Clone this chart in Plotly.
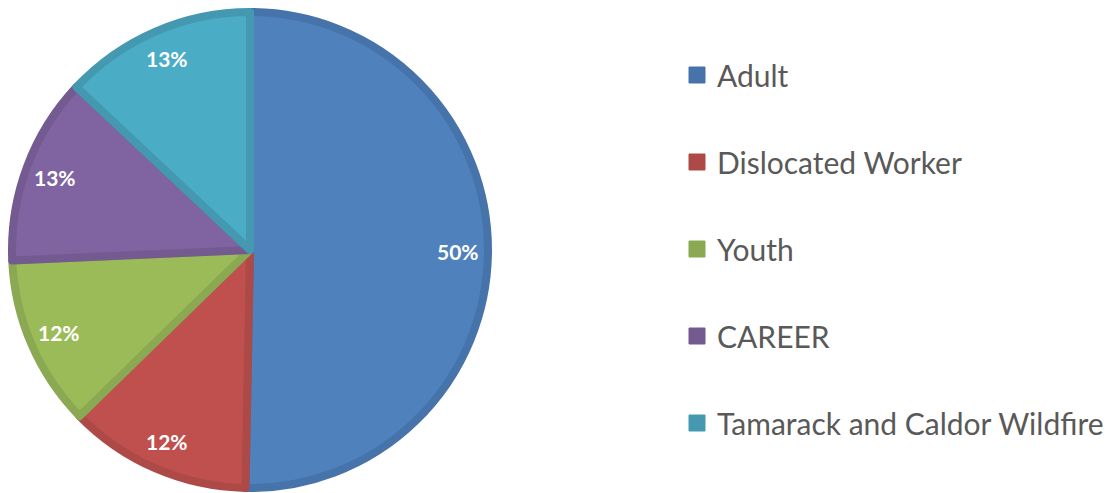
import math
import plotly.graph_objects as go

labels = ["Adult", "Dislocated Worker", "Youth", "CAREER", "Tamarack and Caldor Wildfire"]
values = [50.3, 12.4, 11.6, 12.7, 13.0]
fill_colors = ["#4F81BD", "#C0504D", "#9BBB59", "#8064A2", "#4BACC6"]
border_colors = ["#4673AA", "#AD4A47", "#8BA852", "#735A91", "#4499B1"]

W, H = 1109, 493
cx, cy, R, LW = 250, 250, 242, 8
r_in = R - LW / 2
label_r = 0.86 * R

fig = go.Figure()
fig.add_trace(go.Pie(
    labels=labels, values=values, sort=False, direction="clockwise", rotation=0,
    marker=dict(colors=fill_colors, line=dict(color=border_colors, width=LW)),
    textinfo="none", showlegend=False, hoverinfo="label+percent",
    domain=dict(x=[(cx - r_in) / W, (cx + r_in) / W], y=[(H - cy - r_in) / H, (H - cy + r_in) / H]),
))

# data labels placed along each slice's bisector (computed from the values)
total = sum(values)
cum = 0.0
for v in values:
    mid = (cum + v / 2) / total * 2 * math.pi
    cum += v
    px = cx + label_r * math.sin(mid)
    py = cy - label_r * math.cos(mid)
    fig.add_annotation(
        x=px / W, y=(H - py) / H, xref="paper", yref="paper",
        text=f"{round(v / total * 100)}%", showarrow=False,
        font=dict(family="Lato", size=21, color="white", weight="bold"),
        xanchor="center", yanchor="middle",
    )

for i, (lab, fc, bc) in enumerate(zip(labels, fill_colors, border_colors)):
    fig.add_trace(go.Scatter(
        x=[None], y=[None], mode="markers", name=lab, legendgroup=f"g{i}",
        marker=dict(symbol="square", size=16, color=bc, line=dict(color=bc, width=1)),
        showlegend=True,
    ))

fig.update_layout(
    width=W, height=H, margin=dict(l=0, r=0, t=0, b=0),
    paper_bgcolor="white", plot_bgcolor="white",
    xaxis=dict(visible=False), yaxis=dict(visible=False),
    legend=dict(x=677 / W, xanchor="left", y=1 - 49 / H, yanchor="top",
                font=dict(family="Lato", size=30, color="#595959"),
                tracegroupgap=45, itemsizing="trace", bgcolor="rgba(0,0,0,0)"),
)

fig.write_html("out.html")
